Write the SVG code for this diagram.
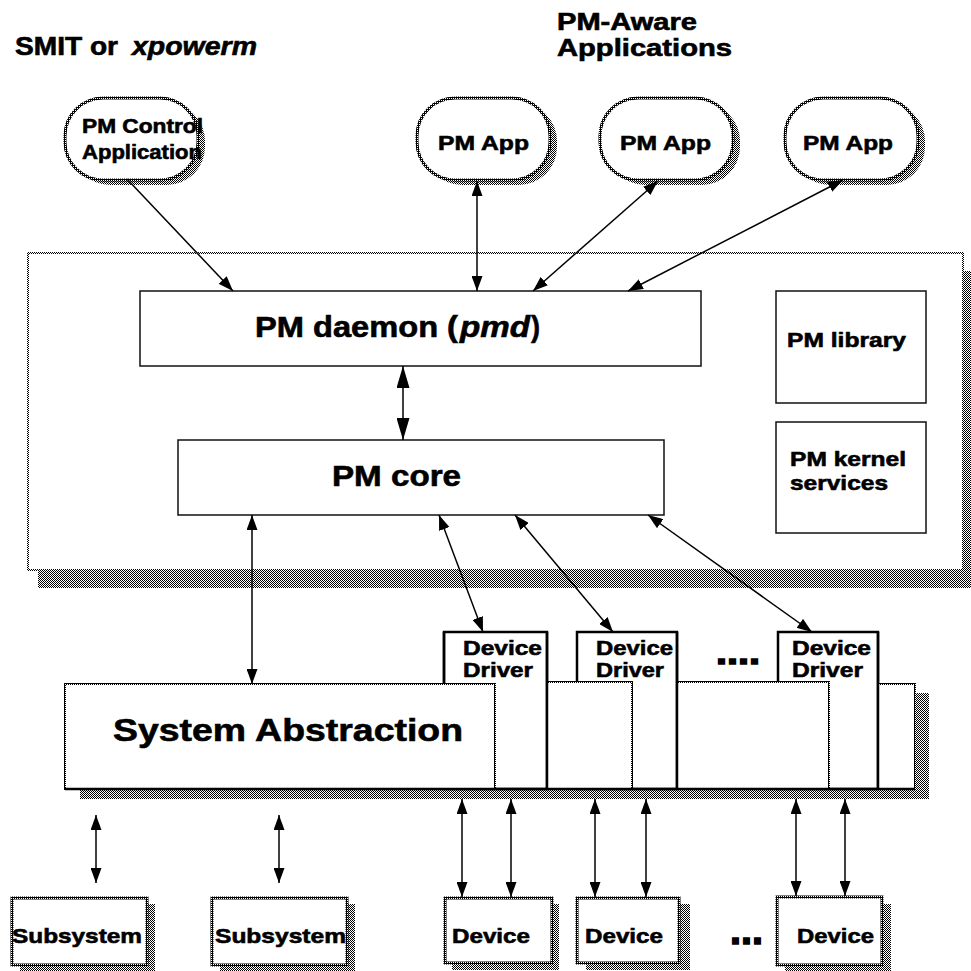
<svg xmlns="http://www.w3.org/2000/svg" width="971" height="971" viewBox="0 0 971 971">
<defs>
<pattern id="dith" width="2" height="2" patternUnits="userSpaceOnUse"><rect width="2" height="2" fill="#fff"/><rect width="1" height="1" fill="#000"/><rect x="1" y="1" width="1" height="1" fill="#000"/></pattern>
<pattern id="dk" width="2" height="2" patternUnits="userSpaceOnUse"><rect width="2" height="2" fill="#000"/><rect x="1" y="0" width="1" height="1" fill="#fff"/></pattern>
<marker id="ah" viewBox="0 0 15 11" refX="15" refY="5.5" markerWidth="15" markerHeight="11" markerUnits="userSpaceOnUse" orient="auto-start-reverse"><path d="M0,0 L15,5.5 L0,11 z" fill="#000"/></marker>
<marker id="ahL" viewBox="0 0 22 13" refX="22" refY="6.5" markerWidth="22" markerHeight="13" markerUnits="userSpaceOnUse" orient="auto-start-reverse"><path d="M0,0 L22,6.5 L0,13 z" fill="#000"/></marker>
</defs>
<style>
.t{font-family:"Liberation Sans",Arial,Helvetica,sans-serif;font-weight:bold;fill:#000;stroke:#000;stroke-width:0.6}
.i{font-style:italic}
.c{stroke:#000;stroke-width:1.5;fill:none}
.sh{fill:url(#dith)}
.pill{fill:#fff;stroke:url(#dk);stroke-width:3}
.box{fill:#fff;stroke:#111;stroke-width:1.5}
.dd{fill:#fff;stroke:#000;stroke-width:2.5}
.seg{fill:#fff;stroke:url(#dk);stroke-width:2}
.dev{fill:#fff;stroke:url(#dk);stroke-width:3}
</style>
<rect width="971" height="971" fill="#fff"/>

<g id="title-smit">
<text class="t" x="15" y="55" font-size="25" textLength="103" lengthAdjust="spacingAndGlyphs">SMIT or</text>
<text class="t i" x="132" y="55" font-size="25" textLength="125" lengthAdjust="spacingAndGlyphs">xpowerm</text>
</g>
<g id="title-aware">
<text class="t" font-size="23"><tspan x="557" y="30" textLength="140" lengthAdjust="spacingAndGlyphs">PM-Aware</tspan><tspan x="557" y="56" textLength="175" lengthAdjust="spacingAndGlyphs">Applications</tspan></text>
</g>

<g id="kernel-region">
<rect class="sh" x="38" y="271" width="940" height="317"/>
<rect x="28" y="253" width="935" height="317" fill="#fff" stroke="url(#dith)" stroke-width="2"/>
</g>

<g id="pm-control">
<rect class="sh" x="72" y="103" width="133" height="82" rx="38" ry="38"/>
<rect class="pill" x="65" y="98" width="133" height="82" rx="38" ry="38"/>
<text class="t" font-size="20"><tspan x="82" y="133" textLength="121" lengthAdjust="spacingAndGlyphs">PM Control</tspan><tspan x="82" y="159" textLength="120" lengthAdjust="spacingAndGlyphs">Application</tspan></text>
</g>
<g id="pm-app-1">
<rect class="sh" x="424" y="103" width="133" height="82" rx="38" ry="38"/>
<rect class="pill" x="417" y="98" width="133" height="82" rx="38" ry="38"/>
<text class="t" x="438" y="150" font-size="21" textLength="91" lengthAdjust="spacingAndGlyphs">PM App</text>
</g>
<g id="pm-app-2">
<rect class="sh" x="607" y="103" width="133" height="82" rx="38" ry="38"/>
<rect class="pill" x="600" y="98" width="133" height="82" rx="38" ry="38"/>
<text class="t" x="620" y="150" font-size="21" textLength="91" lengthAdjust="spacingAndGlyphs">PM App</text>
</g>
<g id="pm-app-3">
<rect class="sh" x="792" y="103" width="133" height="82" rx="38" ry="38"/>
<rect class="pill" x="785" y="98" width="133" height="82" rx="38" ry="38"/>
<text class="t" x="803" y="150" font-size="21" textLength="90" lengthAdjust="spacingAndGlyphs">PM App</text>
</g>

<g id="pm-daemon">
<rect class="box" x="140" y="291" width="561" height="75"/>
<text class="t" x="255" y="337" font-size="29" textLength="203" lengthAdjust="spacingAndGlyphs">PM daemon (</text>
<text class="t i" x="460" y="337" font-size="29" textLength="70" lengthAdjust="spacingAndGlyphs">pmd</text>
<text class="t" x="531" y="337" font-size="29" textLength="9" lengthAdjust="spacingAndGlyphs">)</text>
</g>
<g id="pm-core">
<rect class="box" x="178" y="440" width="486" height="75"/>
<text class="t" x="332" y="486" font-size="29" textLength="129" lengthAdjust="spacingAndGlyphs">PM core</text>
</g>
<g id="pm-library">
<rect class="box" x="776" y="291" width="150" height="112"/>
<text class="t" x="787" y="347" font-size="21" textLength="119" lengthAdjust="spacingAndGlyphs">PM library</text>
</g>
<g id="pm-kernel-services">
<rect class="box" x="776" y="422" width="150" height="111"/>
<text class="t" font-size="21"><tspan x="790" y="466" textLength="116" lengthAdjust="spacingAndGlyphs">PM kernel</tspan><tspan x="790" y="490" textLength="98" lengthAdjust="spacingAndGlyphs">services</tspan></text>
</g>

<g id="system-abstraction">
<rect class="sh" x="80" y="693" width="849" height="106"/>
<rect class="dd" x="444" y="632" width="103" height="157"/>
<rect class="dd" x="577" y="632" width="100" height="157"/>
<rect class="dd" x="778" y="632" width="100" height="157"/>
<rect class="seg" x="65" y="684" width="430" height="105"/>
<rect class="seg" x="547" y="682" width="85" height="107"/>
<rect class="seg" x="677" y="682" width="152" height="107"/>
<rect class="seg" x="878" y="684" width="37" height="105" stroke="#000" stroke-width="2.5"/>
<line x1="444" y1="632" x2="444" y2="684" stroke="#000" stroke-width="2.5"/>
<line x1="547" y1="632" x2="547" y2="789" stroke="#000" stroke-width="2.5"/>
<line x1="677" y1="632" x2="677" y2="789" stroke="#000" stroke-width="2.5"/>
<line x1="878" y1="632" x2="878" y2="789" stroke="#000" stroke-width="2.5"/>
<line x1="65" y1="789" x2="915" y2="789" stroke="#000" stroke-width="2.5"/>
<text class="t" x="113" y="741" font-size="32" textLength="350" lengthAdjust="spacingAndGlyphs">System Abstraction</text>
</g>
<g id="device-driver-1">
<text class="t" font-size="21"><tspan x="463" y="655" textLength="79" lengthAdjust="spacingAndGlyphs">Device</tspan><tspan x="463" y="677" textLength="70" lengthAdjust="spacingAndGlyphs">Driver</tspan></text>
</g>
<g id="device-driver-2">
<text class="t" font-size="21"><tspan x="596" y="655" textLength="77" lengthAdjust="spacingAndGlyphs">Device</tspan><tspan x="596" y="677" textLength="68" lengthAdjust="spacingAndGlyphs">Driver</tspan></text>
</g>
<g id="device-driver-3">
<text class="t" font-size="21"><tspan x="792" y="655" textLength="79" lengthAdjust="spacingAndGlyphs">Device</tspan><tspan x="792" y="677" textLength="71" lengthAdjust="spacingAndGlyphs">Driver</tspan></text>
</g>
<g id="dd-ellipsis">
<text class="t" x="716" y="664" font-size="34" textLength="44" lengthAdjust="spacingAndGlyphs" style="stroke-width:1.5">....</text>
</g>

<g id="subsystem-1">
<rect class="sh" x="20" y="904" width="135" height="67"/>
<rect class="dev" x="12" y="898" width="135" height="67"/>
<text class="t" x="12" y="943" font-size="21" textLength="130" lengthAdjust="spacingAndGlyphs">Subsystem</text>
</g>
<g id="subsystem-2">
<rect class="sh" x="220" y="904" width="135" height="67"/>
<rect class="dev" x="212" y="898" width="135" height="67"/>
<text class="t" x="215" y="943" font-size="21" textLength="131" lengthAdjust="spacingAndGlyphs">Subsystem</text>
</g>
<g id="device-1">
<rect class="sh" x="452" y="904" width="107" height="66"/>
<rect class="dev" x="445" y="898" width="107" height="65"/>
<text class="t" x="452" y="943" font-size="21" textLength="78" lengthAdjust="spacingAndGlyphs">Device</text>
</g>
<g id="device-2">
<rect class="sh" x="586" y="904" width="104" height="66"/>
<rect class="dev" x="577" y="898" width="102" height="65"/>
<text class="t" x="585" y="943" font-size="21" textLength="78" lengthAdjust="spacingAndGlyphs">Device</text>
</g>
<g id="device-3">
<rect class="sh" x="785" y="904" width="106" height="67"/>
<rect class="dev" x="777" y="897" width="105" height="68"/>
<text class="t" x="797" y="943" font-size="21" textLength="77" lengthAdjust="spacingAndGlyphs">Device</text>
</g>
<g id="device-ellipsis">
<text class="t" x="730" y="944" font-size="40" textLength="33" lengthAdjust="spacingAndGlyphs" style="stroke-width:1.5">...</text>
</g>

<g id="connectors">
<line class="c" x1="127" y1="179" x2="233" y2="291" marker-end="url(#ah)"/>
<line class="c" x1="477" y1="181" x2="477" y2="291" marker-start="url(#ah)" marker-end="url(#ah)"/>
<line class="c" x1="658" y1="181" x2="533" y2="291" marker-start="url(#ah)" marker-end="url(#ah)"/>
<line class="c" x1="843" y1="180" x2="628" y2="291" marker-start="url(#ah)" marker-end="url(#ah)"/>
<line class="c" x1="403" y1="366" x2="403" y2="440" marker-start="url(#ahL)" marker-end="url(#ahL)"/>
<line class="c" x1="252" y1="515" x2="252" y2="684" marker-start="url(#ah)" marker-end="url(#ah)"/>
<line class="c" x1="439" y1="515" x2="483" y2="632" marker-start="url(#ah)" marker-end="url(#ah)"/>
<line class="c" x1="515" y1="515" x2="613" y2="632" marker-start="url(#ah)" marker-end="url(#ah)"/>
<line class="c" x1="648" y1="515" x2="812" y2="632" marker-start="url(#ah)" marker-end="url(#ah)"/>
<line class="c" x1="96" y1="815" x2="96" y2="883" marker-start="url(#ah)" marker-end="url(#ah)"/>
<line class="c" x1="279" y1="815" x2="279" y2="883" marker-start="url(#ah)" marker-end="url(#ah)"/>
<line class="c" x1="462" y1="799" x2="462" y2="897" marker-start="url(#ah)" marker-end="url(#ah)"/>
<line class="c" x1="511" y1="799" x2="511" y2="897" marker-start="url(#ah)" marker-end="url(#ah)"/>
<line class="c" x1="595" y1="799" x2="595" y2="897" marker-start="url(#ah)" marker-end="url(#ah)"/>
<line class="c" x1="646" y1="799" x2="646" y2="897" marker-start="url(#ah)" marker-end="url(#ah)"/>
<line class="c" x1="796" y1="799" x2="796" y2="896" marker-start="url(#ah)" marker-end="url(#ah)"/>
<line class="c" x1="845" y1="799" x2="845" y2="896" marker-start="url(#ah)" marker-end="url(#ah)"/>
</g>
</svg>
